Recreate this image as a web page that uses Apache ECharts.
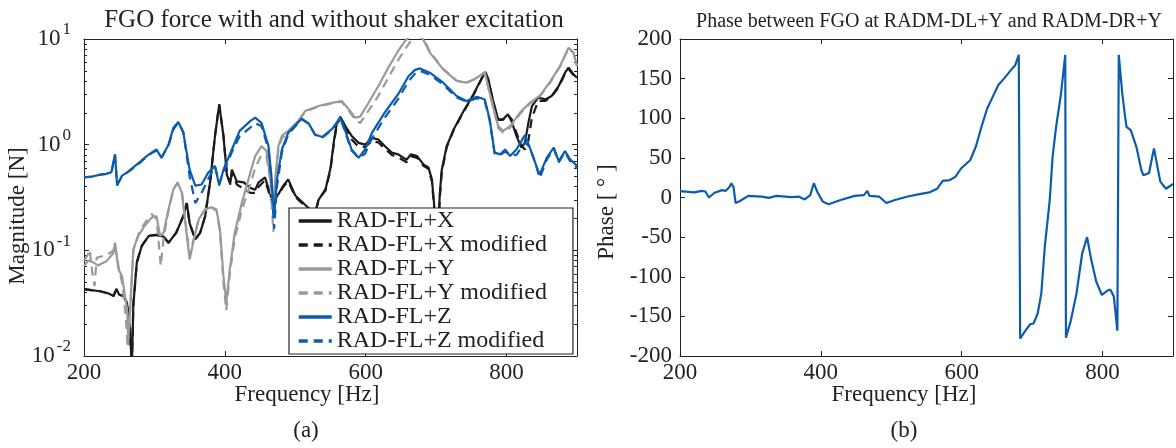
<!DOCTYPE html>
<html>
<head>
<meta charset="utf-8">
<script src="https://cdn.jsdelivr.net/npm/echarts@6/dist/echarts.min.js"></script>
<style>html,body{margin:0;padding:0;background:#fff}#c{width:1176px;height:448px}</style>
</head>
<body>
<div id="c"></div>
<script>
// ---- data ----
const freqX = [200,210,223,235,242,246,250,256,261,265,268,270,275,282,292,303,313,320,331,341,346,350,358,365,372,379,386,392,398,403,408,410,417,427,436,443,448,457,466,476,483,490,500,509,519,528,533,543,550,555,559,564,571,580,590,599,609,618,627,637,646,658,664,673,682,689,694,697,700,702,705,708,715,725,739,753,765,770,774,781,788,795,802,807,814,821,826,831,836,845,855,864,874,883,888,895,900];
const magX  = [0.043,0.042,0.041,0.039,0.037,0.043,0.038,0.037,0.032,0.018,0.008,0.03,0.077,0.11,0.137,0.14,0.135,0.118,0.147,0.21,0.28,0.18,0.127,0.147,0.21,0.44,1.21,2.41,1.21,0.51,0.44,0.58,0.45,0.44,0.39,0.375,0.44,0.49,0.315,0.34,0.41,0.47,0.33,0.29,0.25,0.22,0.3,0.38,0.6,1.1,1.6,1.84,1.5,1.21,1.04,1.0,1.16,1.12,0.97,0.84,0.81,0.72,0.81,0.78,0.65,0.61,0.47,0.28,0.1,0.08,0.33,0.58,0.97,1.4,2.08,3.0,4.3,4.87,4.16,2.59,1.74,1.74,1.94,1.67,1.21,0.94,1.04,1.61,2.32,2.79,2.68,2.89,3.59,4.8,5.35,4.63,4.3];
const magXmod = [0.043,0.042,0.041,0.039,0.037,0.043,0.038,0.037,0.032,0.018,0.008,0.03,0.077,0.11,0.137,0.14,0.135,0.118,0.147,0.21,0.28,0.18,0.127,0.147,0.21,0.44,1.21,2.41,1.21,0.51,0.42,0.55,0.42,0.38,0.35,0.35,0.40,0.46,0.30,0.33,0.40,0.45,0.32,0.28,0.25,0.22,0.3,0.37,0.58,1.05,1.55,1.8,1.45,1.12,0.95,0.95,1.08,1.05,0.92,0.8,0.76,0.68,0.78,0.75,0.63,0.59,0.45,0.26,0.1,0.08,0.3,0.55,0.95,1.38,2.05,2.95,4.25,4.8,4.1,2.55,1.72,1.72,1.9,1.75,1.3,0.98,0.9,1.1,1.8,2.6,2.6,2.85,3.5,4.7,5.2,4.55,4.2];

const freqY = [200,206,213,220,225,232,242,244,249,254,261,263,266,270,277,286,296,303,308,313,320,327,333,339,344,350,356,363,372,381,388,393,398,402,407,414,424,436,443,452,459,464,469,472,476,481,490,504,514,533,552,566,575,585,592,604,618,632,646,656,662,670,678,682,691,710,729,743,758,769,776,783,788,795,805,819,833,847,861,876,888,895,900];
const magY  = [0.071,0.08,0.077,0.072,0.075,0.079,0.095,0.118,0.066,0.057,0.028,0.0144,0.032,0.102,0.137,0.17,0.204,0.21,0.137,0.147,0.245,0.38,0.44,0.35,0.18,0.082,0.127,0.197,0.245,0.255,0.245,0.158,0.057,0.032,0.066,0.147,0.28,0.54,0.78,0.97,0.87,0.51,0.25,0.51,0.97,1.21,1.35,1.67,2.08,2.32,2.49,2.59,2.2,1.8,1.84,2.49,3.59,5.35,7.7,9.6,10.5,11,10.5,9.8,7.43,5.16,4.01,3.86,4.3,4.87,3.1,2.01,1.5,1.35,1.5,2.01,2.49,2.89,3.86,5.56,8.28,7.43,5.56];
const freqYmod = [200,205,208,212,215,218,223,232,242,244,249,254,259,262,266,270,277,286,296,303,309,313,320,327,333,339,344,350,356,363,372,381,388,393,398,402,407,414,424,436,443,452,459,464,469,472,476,481,490,504,514,533,552,566,575,585,592,604,618,632,646,656,664,670,678,684,691,710,729,743,758,769,776,783,788,795,805,819,833,847,861,876,888,895,900];
const magYmod = [0.08,0.09,0.102,0.06,0.046,0.085,0.087,0.09,0.1,0.115,0.07,0.05,0.025,0.012,0.03,0.1,0.14,0.18,0.22,0.2,0.071,0.13,0.24,0.38,0.43,0.36,0.19,0.09,0.13,0.2,0.24,0.25,0.24,0.15,0.05,0.027,0.06,0.13,0.24,0.42,0.6,0.8,0.78,0.48,0.15,0.45,0.9,1.15,1.3,1.65,2.05,2.3,2.45,2.55,2.15,1.72,1.6,2.1,2.9,4.3,6.3,8.0,9.6,10.5,10.8,9.6,7.6,5.2,4.05,3.85,4.25,4.8,3.05,2.0,1.45,1.3,1.45,1.95,2.45,2.85,3.8,5.5,8.2,7.4,5.5];

const freqZ = [200,212,223,232,239,244,247,254,262,270,280,289,297,303,310,320,327,334,341,350,358,367,376,386,392,398,410,421,436,443,452,462,466,470,474,481,490,509,519,528,538,552,564,571,580,590,599,609,627,646,661,670,677,691,710,729,743,758,769,776,783,791,798,805,814,826,833,843,847,857,867,874,883,890,900];
const magZ  = [0.49,0.5,0.52,0.53,0.55,0.81,0.41,0.51,0.55,0.61,0.69,0.78,0.85,0.9,0.75,1.0,1.45,1.64,1.3,0.58,0.41,0.42,0.54,0.63,0.41,0.58,0.9,1.35,1.67,1.8,1.61,0.97,0.51,0.21,0.47,0.9,1.3,1.76,1.59,1.25,1.18,1.4,1.8,1.35,0.9,0.75,0.9,1.3,2.01,3.0,4.47,5.1,5.27,4.8,3.86,2.89,2.59,2.84,2.68,1.74,0.84,0.81,0.9,0.78,0.9,1.23,0.94,0.61,0.52,0.75,0.94,0.7,0.87,0.73,0.63];
const magZmod = [0.49,0.5,0.52,0.53,0.55,0.8,0.42,0.5,0.55,0.6,0.68,0.77,0.84,0.88,0.76,0.98,1.4,1.62,1.32,0.5,0.28,0.35,0.47,0.62,0.43,0.55,0.85,1.2,1.45,1.6,1.5,0.9,0.45,0.16,0.4,0.85,1.25,1.74,1.58,1.24,1.16,1.38,1.78,1.3,0.88,0.75,0.82,1.15,1.8,2.7,4.0,4.7,5.0,4.6,3.7,2.8,2.55,2.75,2.6,1.7,0.82,0.8,0.86,0.8,0.8,1.05,0.95,0.6,0.48,0.72,0.92,0.68,0.85,0.7,0.6];

const freqP = [200,220,231,236,241,249,260,265,270,273,276,279,284,297,316,326,337,358,369,377,385,390,395,403,411,427,448,461,466,469,483,493,504,522,538,554,565,573,583,591,599,612,620,628,636,644,652,660,671,676,681,683,689,697,702,708,713,718,725,729,734,741,747,748,755,763,771,778,784,791,799,808,811,816,821,823,828,832,834,840,848,855,858,866,870,873,877,882,890,900];
const phase = [8,6.4,8.4,7.6,0,6,9.3,8.4,13,18,13,-7,-5,2,1,-0.5,2,0.5,1,-2.5,3,18,7,-5.5,-8.5,-3.5,2,3,8.4,2,1,-7,-3.5,1,4,6.4,11,21,22,26,36.6,47,64,89,112,127,142,150,162,167,180,-178,-170,-160,-159,-146,-121,-62,-3,51,89,131,180,-177,-155,-121,-71,-50,-79,-106,-123,-117,-116,-125,-168,180,131,102,89,85,64,35,28,31,49,62,43,20,11,17];

const yTickVals = [0.01,0.1,1,10];
const minorLog = [];
[0.01,0.1,1].forEach(d=>{for(let k=2;k<=9;k++) minorLog.push(+(d*k).toPrecision(3));});

// ---- style ----
const SERIF = "'Liberation Serif','DejaVu Serif',serif";
const INK = '#222';
const C_BLACK = '#1b1b1b', C_GRAY = '#9a9a9a', C_BLUE = '#0b5cad';
const DASH = [9,6];
const pair = (f,v)=>f.map((x,i)=>[x,v[i]]);

const G = [
  {left:84, top:39, width:493, height:317},
  {left:680, top:39, width:494, height:317}
];

function xAxes(gi){
  const base = {type:'value', gridIndex:gi, min:200, max:900, interval:200};
  return [
    Object.assign({}, base, {position:'bottom',
      axisLine:{show:true,onZero:false,lineStyle:{color:INK,width:1}},
      axisTick:{show:true,inside:true,length:5,lineStyle:{color:INK}},
      axisLabel:{show:true,margin:5,color:'#222',fontFamily:SERIF,fontSize:23,
        formatter:v=> (v%200===0? String(v):'')},
      splitLine:{show:false}}),
    Object.assign({}, base, {position:'top',
      axisLine:{show:true,onZero:false,lineStyle:{color:INK,width:1}},
      axisTick:{show:true,inside:true,length:5,lineStyle:{color:INK}},
      axisLabel:{show:false}, splitLine:{show:false}})
  ];
}

const option = {
  animation:false,
  backgroundColor:'#fff',
  grid:G.map(g=>Object.assign({containLabel:false},g)),
  title:[
    {text:'FGO force with and without shaker excitation', left:329, top:3, textAlign:'center',
      textStyle:{fontFamily:SERIF,fontSize:25,fontWeight:'normal',color:'#222'}},
    {text:'Phase between FGO at RADM-DL+Y and RADM-DR+Y', left:924, top:7, textAlign:'center',
      textStyle:{fontFamily:SERIF,fontSize:20,fontWeight:'normal',color:'#222'}}
  ],
  xAxis:[...xAxes(0), ...xAxes(1)],
  yAxis:[
    {type:'log', gridIndex:0, min:0.01, max:10, logBase:10, position:'left',
      axisLine:{show:true,onZero:false,lineStyle:{color:INK}},
      axisTick:{show:true,inside:true,length:5,lineStyle:{color:INK}},
      splitLine:{show:false},
      axisLabel:{show:true, margin:13, color:'#222', customValues:yTickVals,
        formatter:v=>'{b|10}{s|'+Math.round(Math.log10(v))+'}',
        rich:{b:{fontFamily:SERIF,fontSize:23,color:'#222',lineHeight:23},
              s:{fontFamily:SERIF,fontSize:17,color:'#222',lineHeight:17,padding:[0,0,18,2]}}}},
    {type:'log', gridIndex:0, min:0.01, max:10, position:'left',
      axisLine:{show:false}, axisLabel:{show:false}, splitLine:{show:false},
      axisTick:{show:true,inside:true,length:3,customValues:minorLog,lineStyle:{color:INK}}},
    {type:'log', gridIndex:0, min:0.01, max:10, position:'right',
      axisLine:{show:true,onZero:false,lineStyle:{color:INK}}, axisLabel:{show:false}, splitLine:{show:false},
      axisTick:{show:true,inside:true,length:5,lineStyle:{color:INK}}},
    {type:'log', gridIndex:0, min:0.01, max:10, position:'right',
      axisLine:{show:false}, axisLabel:{show:false}, splitLine:{show:false},
      axisTick:{show:true,inside:true,length:3,customValues:minorLog,lineStyle:{color:INK}}},
    {type:'value', gridIndex:1, min:-200, max:200, interval:50, position:'left',
      axisLine:{show:true,onZero:false,lineStyle:{color:INK}},
      axisTick:{show:true,inside:true,length:5,lineStyle:{color:INK}},
      splitLine:{show:false},
      axisLabel:{show:true,margin:8,color:'#222',fontFamily:SERIF,fontSize:23}},
    {type:'value', gridIndex:1, min:-200, max:200, interval:50, position:'right',
      axisLine:{show:true,onZero:false,lineStyle:{color:INK}},
      axisTick:{show:true,inside:true,length:5,lineStyle:{color:INK}},
      splitLine:{show:false}, axisLabel:{show:false}}
  ],
  legend:{
    show:true, orient:'vertical', left:289, top:208,
    backgroundColor:'#fff', borderColor:'#222', borderWidth:1.2,
    padding:[1,26,1,8], itemGap:0, itemWidth:33, itemHeight:14,
    itemStyle:{opacity:0},
    lineStyle:{width:3.5},
    textStyle:{fontFamily:SERIF,fontSize:24,color:'#222',lineHeight:23.3},
    data:['RAD-FL+X','RAD-FL+X modified','RAD-FL+Y','RAD-FL+Y modified','RAD-FL+Z','RAD-FL+Z modified']
  },
  series:[
    {name:'RAD-FL+X', type:'line', xAxisIndex:0, yAxisIndex:0, data:pair(freqX,magX), symbol:'none', color:C_BLACK, lineStyle:{color:C_BLACK,width:2.2}},
    {name:'RAD-FL+X modified', type:'line', xAxisIndex:0, yAxisIndex:0, data:pair(freqX,magXmod), symbol:'none', color:C_BLACK, lineStyle:{color:C_BLACK,width:2.2,type:DASH}},
    {name:'RAD-FL+Y', type:'line', xAxisIndex:0, yAxisIndex:0, data:pair(freqY,magY), symbol:'none', color:C_GRAY, lineStyle:{color:C_GRAY,width:2.2}},
    {name:'RAD-FL+Y modified', type:'line', xAxisIndex:0, yAxisIndex:0, data:pair(freqYmod,magYmod), symbol:'none', color:C_GRAY, lineStyle:{color:C_GRAY,width:2.2,type:DASH}},
    {name:'RAD-FL+Z', type:'line', xAxisIndex:0, yAxisIndex:0, data:pair(freqZ,magZ), symbol:'none', color:C_BLUE, lineStyle:{color:C_BLUE,width:2.2}},
    {name:'RAD-FL+Z modified', type:'line', xAxisIndex:0, yAxisIndex:0, data:pair(freqZ,magZmod), symbol:'none', color:C_BLUE, lineStyle:{color:C_BLUE,width:2.2,type:DASH}},
    {name:'Phase', type:'line', xAxisIndex:2, yAxisIndex:4, data:pair(freqP,phase), symbol:'none', color:C_BLUE, lineStyle:{color:C_BLUE,width:2.2}}
  ],
  graphic:[
    {type:'text', x:18, y:216, rotation:Math.PI/2, style:{text:'Magnitude [N]', font:"23px "+SERIF, fill:'#222', textAlign:'center', textVerticalAlign:'middle'}},
    {type:'text', x:307, y:395, style:{text:'Frequency [Hz]', font:"23px "+SERIF, fill:'#222', textAlign:'center', textVerticalAlign:'middle'}},
    {type:'text', x:306, y:431, style:{text:'(a)', font:"23px "+SERIF, fill:'#222', textAlign:'center', textVerticalAlign:'middle'}},
    {type:'text', x:607, y:212, rotation:Math.PI/2, style:{text:'Phase [ ° ]', font:"23px "+SERIF, fill:'#222', textAlign:'center', textVerticalAlign:'middle'}},
    {type:'text', x:904, y:395, style:{text:'Frequency [Hz]', font:"23px "+SERIF, fill:'#222', textAlign:'center', textVerticalAlign:'middle'}},
    {type:'text', x:904, y:431, style:{text:'(b)', font:"23px "+SERIF, fill:'#222', textAlign:'center', textVerticalAlign:'middle'}}
  ]
};
const chart = echarts.init(document.getElementById('c'), null, {renderer:'canvas'});
chart.setOption(option);
</script>
</body>
</html>
